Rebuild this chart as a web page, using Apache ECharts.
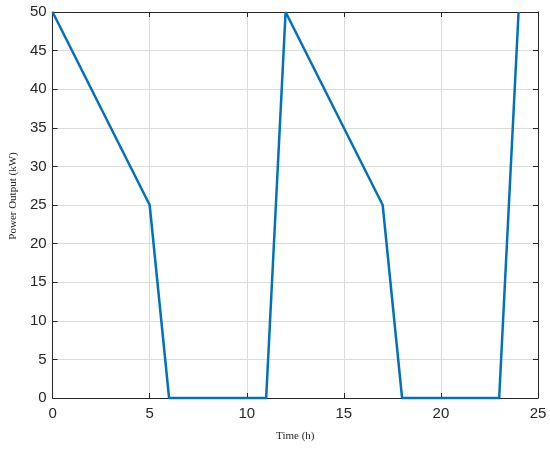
<!DOCTYPE html>
<html>
<head>
<meta charset="utf-8">
<script src="https://cdn.jsdelivr.net/npm/echarts@6/dist/echarts.min.js"></script>
<style>
  html, body { margin: 0; padding: 0; background: #fff; }
  #chart { width: 550px; height: 450px; }
</style>
</head>
<body>
<div id="chart"></div>
<script>
// time in hours and power output in kW
const hours = [0, 5, 6, 11, 12, 17, 18, 23, 24]
const power = [50, 25, 0, 0, 50, 25, 0, 0, 50]
const xTicks = [0, 5, 10, 15, 20, 25]
const yTicks = [0, 5, 10, 15, 20, 25, 30, 35, 40, 45, 50]

const chart = echarts.init(document.getElementById('chart'))
const axisColor = '#262626'
const tickFont = {color: axisColor, fontSize: 15, fontFamily: 'Liberation Sans, Arial'}
const nameFont = {color: axisColor, fontSize: 11, fontFamily: 'Liberation Serif, Times New Roman'}

const xBase = {
  type: 'value',
  min: xTicks[0],
  max: xTicks[xTicks.length - 1],
  interval: 5,
  axisLine: {show: true, onZero: false, lineStyle: {color: axisColor, width: 1}},
  axisTick: {show: true, inside: true, length: 5, lineStyle: {color: axisColor}}
}
const yBase = {
  type: 'value',
  min: yTicks[0],
  max: yTicks[yTicks.length - 1],
  interval: 5,
  axisLine: {show: true, onZero: false, lineStyle: {color: axisColor, width: 1}},
  axisTick: {show: true, inside: true, length: 5, lineStyle: {color: axisColor}}
}

chart.setOption({
  animation: false,
  grid: {left: 48, right: 12, top: 12, bottom: 52, containLabel: false},
  xAxis: [
    Object.assign({}, xBase, {
      position: 'bottom',
      name: 'Time (h)',
      nameLocation: 'middle',
      nameGap: 33,
      nameTextStyle: nameFont,
      axisLabel: Object.assign({margin: 8}, tickFont),
      splitLine: {show: true, lineStyle: {color: '#dcdcdc', width: 1}}
    }),
    Object.assign({}, xBase, {
      position: 'top',
      axisLabel: {show: false},
      splitLine: {show: false}
    })
  ],
  yAxis: [
    Object.assign({}, yBase, {
      position: 'left',
      name: 'Power Output (kW)',
      nameLocation: 'middle',
      nameGap: 33,
      nameTextStyle: Object.assign({padding: [0, 0, 0, 18]}, nameFont),
      axisLabel: Object.assign({margin: 6}, tickFont),
      splitLine: {show: true, lineStyle: {color: '#dcdcdc', width: 1}}
    }),
    Object.assign({}, yBase, {
      position: 'right',
      axisLabel: {show: false},
      splitLine: {show: false}
    })
  ],
  series: [{
    type: 'line',
    data: hours.map((h, i) => [h, power[i]]),
    symbol: 'none',
    lineStyle: {color: '#0072BD', width: 2.5},
    clip: false
  }]
})
</script>
</body>
</html>
